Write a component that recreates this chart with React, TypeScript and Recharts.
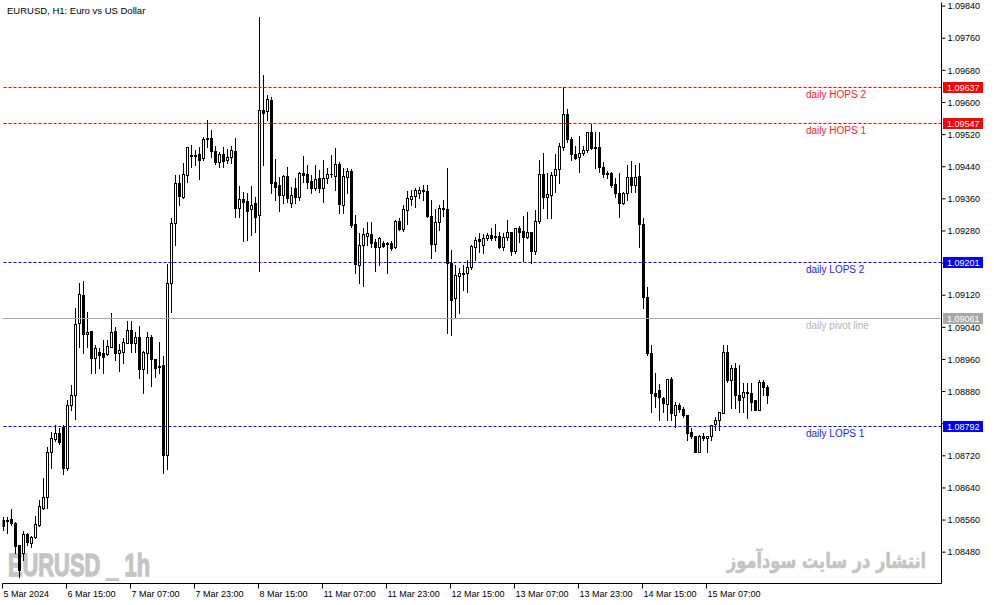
import React from 'react';
import { ComposedChart, Bar, XAxis, YAxis, ReferenceLine } from 'recharts';

// EURUSD H1, one value per hourly bar (bar 0 = 5 Mar 23:00)
const opens = [
  1.08560, 1.08558, 1.08563, 1.08553, 1.08498, 1.08478, 1.08525, 1.08503, 1.08518, 1.08548,
  1.08590, 1.08618, 1.08730, 1.08762, 1.08777, 1.08792, 1.08690, 1.08847, 1.08871, 1.09051,
  1.09120, 1.09023, 1.09031, 1.08964, 1.08979, 1.08976, 1.08974, 1.08991, 1.09031, 1.08976,
  1.08979, 1.09001, 1.09033, 1.09001, 1.09016, 1.08936, 1.08976, 1.09016, 1.08961, 1.08944,
  1.08946, 1.08722, 1.09150, 1.09300, 1.09399, 1.09365, 1.09419, 1.09467, 1.09469, 1.09472,
  1.09462, 1.09511, 1.09511, 1.09479, 1.09452, 1.09472, 1.09457, 1.09464, 1.09479, 1.09337,
  1.09360, 1.09355, 1.09335, 1.09350, 1.09320, 1.09581, 1.09579, 1.09606, 1.09402, 1.09394,
  1.09369, 1.09417, 1.09350, 1.09387, 1.09365, 1.09424, 1.09422, 1.09404, 1.09387, 1.09412,
  1.09387, 1.09412, 1.09422, 1.09417, 1.09447, 1.09345, 1.09414, 1.09429, 1.09297, 1.09195,
  1.09245, 1.09267, 1.09272, 1.09252, 1.09240, 1.09250, 1.09250, 1.09250, 1.09240, 1.09305,
  1.09285, 1.09332, 1.09360, 1.09367, 1.09374, 1.09382, 1.09379, 1.09317, 1.09247, 1.09302,
  1.09335, 1.09335, 1.09200, 1.09113, 1.09168, 1.09175, 1.09175, 1.09190, 1.09240, 1.09260,
  1.09245, 1.09262, 1.09270, 1.09265, 1.09267, 1.09240, 1.09265, 1.09277, 1.09230, 1.09287,
  1.09280, 1.09265, 1.09277, 1.09230, 1.09305, 1.09422, 1.09365, 1.09369, 1.09419, 1.09434,
  1.09489, 1.09571, 1.09509, 1.09472, 1.09464, 1.09474, 1.09482, 1.09526, 1.09487, 1.09489,
  1.09439, 1.09424, 1.09424, 1.09397, 1.09374, 1.09350, 1.09374, 1.09414, 1.09394, 1.09417,
  1.09297, 1.09115, 1.08976, 1.08876, 1.08884, 1.08864, 1.08849, 1.08911, 1.08822, 1.08847,
  1.08837, 1.08822, 1.08779, 1.08769, 1.08730, 1.08769, 1.08764, 1.08769, 1.08799, 1.08809,
  1.08827, 1.08979, 1.08909, 1.08939, 1.08871, 1.08866, 1.08879, 1.08876, 1.08859, 1.08834,
  1.08904, 1.08891,
];

const highs = [
  1.08568, 1.08568, 1.08588, 1.08555, 1.08498, 1.08533, 1.08528, 1.08520, 1.08570, 1.08610,
  1.08665, 1.08742, 1.08779, 1.08797, 1.08789, 1.08797, 1.08859, 1.08896, 1.09088, 1.09150,
  1.09155, 1.09078, 1.09031, 1.08996, 1.08989, 1.09008, 1.09008, 1.09076, 1.09041, 1.08998,
  1.09013, 1.09056, 1.09056, 1.09028, 1.09043, 1.08981, 1.09028, 1.09021, 1.08961, 1.09003,
  1.08969, 1.09198, 1.09312, 1.09419, 1.09419, 1.09449, 1.09489, 1.09494, 1.09482, 1.09489,
  1.09514, 1.09556, 1.09531, 1.09492, 1.09477, 1.09489, 1.09484, 1.09492, 1.09511, 1.09392,
  1.09377, 1.09374, 1.09392, 1.09365, 1.09813, 1.09668, 1.09618, 1.09614, 1.09459, 1.09414,
  1.09419, 1.09439, 1.09389, 1.09412, 1.09427, 1.09467, 1.09444, 1.09419, 1.09444, 1.09432,
  1.09457, 1.09437, 1.09469, 1.09487, 1.09452, 1.09437, 1.09437, 1.09434, 1.09320, 1.09275,
  1.09287, 1.09302, 1.09302, 1.09260, 1.09265, 1.09255, 1.09252, 1.09255, 1.09307, 1.09312,
  1.09345, 1.09379, 1.09382, 1.09387, 1.09389, 1.09394, 1.09394, 1.09357, 1.09335, 1.09345,
  1.09357, 1.09437, 1.09233, 1.09195, 1.09188, 1.09195, 1.09208, 1.09245, 1.09265, 1.09275,
  1.09272, 1.09275, 1.09287, 1.09297, 1.09277, 1.09275, 1.09307, 1.09277, 1.09287, 1.09292,
  1.09317, 1.09327, 1.09277, 1.09332, 1.09457, 1.09474, 1.09424, 1.09427, 1.09472, 1.09499,
  1.09638, 1.09584, 1.09514, 1.09492, 1.09516, 1.09492, 1.09526, 1.09546, 1.09526, 1.09526,
  1.09452, 1.09429, 1.09427, 1.09412, 1.09424, 1.09377, 1.09444, 1.09454, 1.09444, 1.09449,
  1.09312, 1.09140, 1.08996, 1.08926, 1.08899, 1.08866, 1.08911, 1.08916, 1.08854, 1.08852,
  1.08842, 1.08822, 1.08789, 1.08769, 1.08772, 1.08777, 1.08770, 1.08797, 1.08817, 1.08829,
  1.08996, 1.08996, 1.08946, 1.08951, 1.08946, 1.08901, 1.08901, 1.08901, 1.08859, 1.08909,
  1.08909, 1.08896,
];

const lows = [
  1.08535, 1.08528, 1.08548, 1.08478, 1.08418, 1.08461, 1.08498, 1.08493, 1.08515, 1.08545,
  1.08588, 1.08590, 1.08690, 1.08757, 1.08749, 1.08675, 1.08685, 1.08834, 1.08812, 1.08991,
  1.08976, 1.08991, 1.08926, 1.08926, 1.08939, 1.08926, 1.08971, 1.08991, 1.08959, 1.08931,
  1.08951, 1.09001, 1.08979, 1.08979, 1.08914, 1.08876, 1.08926, 1.08894, 1.08916, 1.08926,
  1.08677, 1.08687, 1.09078, 1.09245, 1.09345, 1.09362, 1.09402, 1.09439, 1.09444, 1.09409,
  1.09457, 1.09489, 1.09464, 1.09447, 1.09439, 1.09439, 1.09449, 1.09449, 1.09315, 1.09315,
  1.09255, 1.09257, 1.09270, 1.09277, 1.09180, 1.09444, 1.09556, 1.09374, 1.09357, 1.09330,
  1.09350, 1.09352, 1.09340, 1.09350, 1.09357, 1.09402, 1.09387, 1.09374, 1.09382, 1.09377,
  1.09352, 1.09399, 1.09414, 1.09382, 1.09325, 1.09325, 1.09374, 1.09290, 1.09175, 1.09150,
  1.09143, 1.09245, 1.09240, 1.09180, 1.09195, 1.09240, 1.09175, 1.09233, 1.09238, 1.09282,
  1.09280, 1.09297, 1.09345, 1.09340, 1.09362, 1.09357, 1.09315, 1.09213, 1.09230, 1.09282,
  1.09317, 1.09026, 1.09021, 1.09063, 1.09076, 1.09133, 1.09128, 1.09185, 1.09208, 1.09228,
  1.09225, 1.09257, 1.09257, 1.09257, 1.09238, 1.09233, 1.09257, 1.09220, 1.09225, 1.09252,
  1.09205, 1.09262, 1.09200, 1.09223, 1.09300, 1.09337, 1.09312, 1.09312, 1.09377, 1.09399,
  1.09482, 1.09501, 1.09457, 1.09459, 1.09427, 1.09469, 1.09477, 1.09484, 1.09437, 1.09427,
  1.09414, 1.09412, 1.09389, 1.09365, 1.09315, 1.09347, 1.09357, 1.09377, 1.09377, 1.09240,
  1.09088, 1.08971, 1.08829, 1.08842, 1.08809, 1.08829, 1.08809, 1.08809, 1.08792, 1.08829,
  1.08817, 1.08759, 1.08764, 1.08729, 1.08729, 1.08759, 1.08730, 1.08759, 1.08784, 1.08784,
  1.08826, 1.08904, 1.08839, 1.08839, 1.08829, 1.08829, 1.08814, 1.08834, 1.08833, 1.08833,
  1.08871, 1.08852,
];

const closes = [
  1.08545, 1.08560, 1.08553, 1.08496, 1.08436, 1.08525, 1.08505, 1.08518, 1.08550, 1.08595,
  1.08618, 1.08730, 1.08764, 1.08777, 1.08754, 1.08690, 1.08847, 1.08871, 1.09048, 1.09123,
  1.09023, 1.09028, 1.08964, 1.08989, 1.08971, 1.08966, 1.08994, 1.09028, 1.08976, 1.08984,
  1.09003, 1.09033, 1.09001, 1.09016, 1.08936, 1.08979, 1.09016, 1.08961, 1.08939, 1.08941,
  1.08722, 1.09150, 1.09300, 1.09399, 1.09367, 1.09422, 1.09489, 1.09469, 1.09467, 1.09457,
  1.09509, 1.09509, 1.09479, 1.09452, 1.09472, 1.09454, 1.09464, 1.09482, 1.09337, 1.09360,
  1.09352, 1.09330, 1.09345, 1.09315, 1.09581, 1.09574, 1.09609, 1.09399, 1.09389, 1.09369,
  1.09417, 1.09362, 1.09369, 1.09365, 1.09424, 1.09419, 1.09402, 1.09387, 1.09409, 1.09387,
  1.09412, 1.09422, 1.09421, 1.09447, 1.09347, 1.09417, 1.09429, 1.09295, 1.09198, 1.09245,
  1.09272, 1.09275, 1.09250, 1.09240, 1.09262, 1.09243, 1.09247, 1.09238, 1.09305, 1.09285,
  1.09335, 1.09362, 1.09367, 1.09382, 1.09382, 1.09379, 1.09317, 1.09247, 1.09302, 1.09337,
  1.09337, 1.09200, 1.09108, 1.09170, 1.09175, 1.09174, 1.09190, 1.09243, 1.09257, 1.09255,
  1.09262, 1.09270, 1.09262, 1.09267, 1.09240, 1.09265, 1.09277, 1.09230, 1.09287, 1.09277,
  1.09265, 1.09277, 1.09230, 1.09305, 1.09422, 1.09365, 1.09372, 1.09419, 1.09434, 1.09492,
  1.09571, 1.09509, 1.09472, 1.09462, 1.09474, 1.09482, 1.09526, 1.09487, 1.09489, 1.09439,
  1.09422, 1.09421, 1.09394, 1.09374, 1.09350, 1.09374, 1.09414, 1.09394, 1.09414, 1.09297,
  1.09115, 1.08976, 1.08876, 1.08869, 1.08866, 1.08852, 1.08911, 1.08827, 1.08847, 1.08837,
  1.08822, 1.08777, 1.08769, 1.08730, 1.08769, 1.08764, 1.08769, 1.08797, 1.08809, 1.08829,
  1.08979, 1.08909, 1.08939, 1.08871, 1.08859, 1.08879, 1.08876, 1.08854, 1.08834, 1.08904,
  1.08891, 1.08871,
];

// daily pivot levels
const hops2 = 1.09637;
const hops1 = 1.09547;
const lops2 = 1.09201;
const pivot = 1.09061;
const lops1 = 1.08792;

const yTicks = [
  1.0848, 1.0856, 1.0864, 1.0872, 1.088, 1.0888, 1.0896, 1.0904, 1.0912,
  1.092, 1.0928, 1.0936, 1.0944, 1.0952, 1.096, 1.0968, 1.0976, 1.0984,
];
const xTickBars = [0, 16, 32, 48, 64, 80, 96, 112, 128, 144, 160, 176];
const xTickLabels = [
  '5 Mar 2024', '6 Mar 15:00', '7 Mar 07:00', '7 Mar 23:00', '8 Mar 15:00', '11 Mar 07:00',
  '11 Mar 23:00', '12 Mar 15:00', '13 Mar 07:00', '13 Mar 23:00', '14 Mar 15:00', '15 Mar 07:00',
];

const candles = opens.map((o, i) => ({
  i,
  o,
  h: highs[i],
  l: lows[i],
  c: closes[i],
  range: [lows[i], highs[i]],
}));

const FONT = '"Liberation Sans", Arial, sans-serif';
const X_DOMAIN: [number, number] = [-0.25, 234.5];
const Y_DOMAIN: [number, number] = [1.08402, 1.09849];
const MARGIN = { top: 2.5, right: 0, bottom: 0, left: 2.5 };

function Candle(props: any) {
  const { x, y, width, height, payload } = props;
  if (!payload || x == null || y == null) return null;
  const { o, h, l, c } = payload;
  const top = Math.min(y, y + height);
  const span = Math.abs(height);
  const k = h > l ? span / (h - l) : 0;
  const py = (v: number) => Math.round(top + (h - v) * k);
  const cx = Math.floor(x + width / 2) + 0.5;
  const yH = py(h);
  const yL = py(l);
  const yO = py(o);
  const yC = py(c);
  const bTop = Math.min(yO, yC);
  const bBot = Math.max(yO, yC);
  let body;
  if (bBot === bTop) {
    body = <line x1={cx - 1.5} x2={cx + 1.5} y1={bTop + 0.5} y2={bTop + 0.5} stroke="#000" />;
  } else if (c > o) {
    body = (
      <rect x={cx - 1} y={bTop + 0.5} width={2} height={bBot - bTop} fill="#fff" stroke="#000" strokeWidth={1} />
    );
  } else {
    body = <rect x={cx - 1.5} y={bTop} width={3} height={bBot - bTop + 1} fill="#000" />;
  }
  return (
    <g>
      <line x1={cx} x2={cx} y1={yH} y2={yL + 1} stroke="#000" strokeWidth={1} />
      {body}
    </g>
  );
}

function XTick(props: any) {
  const { x, y, index } = props;
  return (
    <text x={x + 1} y={y} dy="0.72em" textAnchor="start" fontSize={9} fontFamily={FONT} fill="#000">
      {xTickLabels[index]}
    </text>
  );
}

function LevelText(props: any) {
  const { viewBox, text, textColor } = props;
  if (!viewBox) return null;
  const right = viewBox.x + viewBox.width;
  return (
    <text x={right - 135.5} y={viewBox.y + 10} fontSize={10} fontFamily={FONT} fill={textColor}>
      {text}
    </text>
  );
}

function PriceTag(props: any) {
  const { viewBox, color, value } = props;
  if (!viewBox) return null;
  const right = viewBox.x + viewBox.width;
  const ly = Math.floor(viewBox.y);
  return (
    <g>
      <rect x={right + 1.5} y={ly - 5} width={40} height={11} fill={color} />
      <text x={right + 5.5} y={ly + 0.5} dy="0.355em" fontSize={9} fontFamily={FONT} fill="#fff">
        {value.toFixed(5)}
      </text>
    </g>
  );
}

// pixel-snapped level line, like the terminal draws it
function LevelLine(props: any) {
  const { x1, x2, y1, stroke, strokeDasharray } = props;
  if (x1 == null || y1 == null) return null;
  const yy = Math.floor(y1) + 0.5;
  return (
    <line x1={x1} x2={x2} y1={yy} y2={yy} stroke={stroke} strokeWidth={1} strokeDasharray={strokeDasharray} fill="none" />
  );
}

function level(value: number, text: string, color: string, textColor: string, dash?: string) {
  return (
    <ReferenceLine
      key={text}
      xAxisId="bottom"
      yAxisId="right"
      y={value}
      stroke={color}
      strokeWidth={1}
      strokeDasharray={dash}
      shape={(p: any) => <LevelLine {...p} />}
      label={<LevelText text={text} textColor={textColor} />}
    />
  );
}

function tag(value: number, color: string) {
  return (
    <ReferenceLine
      key={value}
      xAxisId="bottom"
      yAxisId="right"
      y={value}
      stroke={color}
      shape={() => <g />}
      label={<PriceTag color={color} value={value} />}
    />
  );
}

export default function App() {
  return (
    <div style={{ position: 'absolute', left: 0, top: 0, width: 994, height: 605, background: '#fff', overflow: 'hidden' }}>
      <svg width={994} height={605} style={{ position: 'absolute', left: 0, top: 0 }}>
        <text x={7} y={13.5} fontSize={9.5} fontFamily={FONT} fill="#000">
          EURUSD, H1:  Euro vs US Dollar
        </text>
        <text
          x={8}
          y={576}
          fontSize={32}
          fontWeight="bold"
          fontFamily='"Liberation Sans Narrow", "Liberation Sans", Arial, sans-serif'
          fill="#c4c4c4"
          stroke="#c4c4c4"
          strokeWidth={1.4}
          textLength={142}
          lengthAdjust="spacingAndGlyphs"
        >
          EURUSD _ 1h
        </text>
        <text
          x={727}
          y={568}
          fontSize={21}
          fontWeight="bold"
          fontFamily='"DejaVu Sans", sans-serif'
          fill="#c4c4c4"
          stroke="#c4c4c4"
          strokeWidth={0.6}
          textLength={199}
          lengthAdjust="spacingAndGlyphs"
        >
          انتشار در سایت سودآموز
        </text>
      </svg>
      <div style={{ position: 'absolute', left: 0, top: 0 }}>
        <ComposedChart width={994} height={605} data={candles} margin={MARGIN}>
          <XAxis
            xAxisId="top"
            orientation="top"
            type="number"
            dataKey="i"
            domain={X_DOMAIN}
            allowDataOverflow
            height={0}
            tick={false}
            tickLine={false}
            axisLine={{ stroke: '#000' }}
          />
          <XAxis
            xAxisId="bottom"
            type="number"
            dataKey="i"
            domain={X_DOMAIN}
            allowDataOverflow
            ticks={xTickBars.map((b) => b - 0.25)}
            interval={0}
            height={21.5}
            tickSize={5}
            tickMargin={2}
            tickLine={{ stroke: '#000' }}
            axisLine={{ stroke: '#000' }}
            tick={(p: any) => <XTick {...p} />}
          />
          <YAxis
            yAxisId="left"
            orientation="left"
            domain={Y_DOMAIN}
            allowDataOverflow
            width={0}
            tick={false}
            tickLine={false}
            axisLine={{ stroke: '#000' }}
          />
          <YAxis
            yAxisId="right"
            orientation="right"
            domain={Y_DOMAIN}
            allowDataOverflow
            ticks={yTicks}
            interval={0}
            width={52.5}
            tickSize={4}
            tickMargin={2}
            tickLine={{ stroke: '#000' }}
            axisLine={{ stroke: '#000' }}
            tick={{ fontSize: 9, fontFamily: FONT, fill: '#000' }}
            tickFormatter={(v: number) => v.toFixed(5)}
          />
          <Bar
            xAxisId="bottom"
            yAxisId="right"
            dataKey="range"
            barSize={3}
            isAnimationActive={false}
            shape={(p: any) => <Candle {...p} />}
          />
          {level(hops2, 'daily HOPS 2', '#ff0000', '#ff2020', '3 2')}
          {level(hops1, 'daily HOPS 1', '#ff0000', '#ff2020', '3 2')}
          {level(lops2, 'daily LOPS 2', '#0000ff', '#2020ff', '3 2')}
          {level(pivot, 'daily pivot line', '#a9a9a9', '#b4b4b4')}
          {level(lops1, 'daily LOPS 1', '#0000ff', '#2020ff', '3 2')}
        </ComposedChart>
      </div>
      {/* price tags on the axis sit above the tick labels, as in the terminal */}
      <div style={{ position: 'absolute', left: 0, top: 0, pointerEvents: 'none' }}>
        <ComposedChart width={994} height={605} data={candles} margin={MARGIN}>
          <XAxis
            xAxisId="bottom"
            type="number"
            dataKey="i"
            domain={X_DOMAIN}
            allowDataOverflow
            height={21.5}
            tick={false}
            tickLine={false}
            axisLine={false}
          />
          <YAxis
            yAxisId="right"
            orientation="right"
            domain={Y_DOMAIN}
            allowDataOverflow
            width={52.5}
            tick={false}
            tickLine={false}
            axisLine={false}
          />
          {tag(hops2, '#ff0000')}
          {tag(hops1, '#ff0000')}
          {tag(lops2, '#0000ff')}
          {tag(pivot, '#a9a9a9')}
          {tag(lops1, '#0000ff')}
        </ComposedChart>
      </div>
    </div>
  );
}
